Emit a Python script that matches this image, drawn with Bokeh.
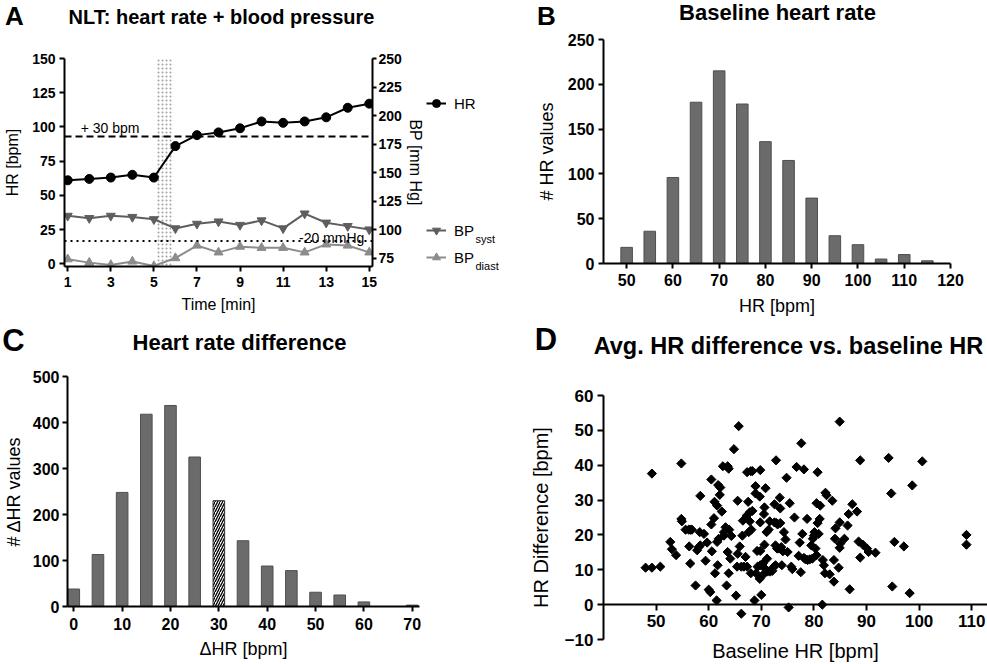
from bokeh.plotting import figure
from bokeh.models import Range1d, LinearAxis, Label, Legend, LegendItem, Span, FixedTicker
from bokeh.core.properties import value
from bokeh.layouts import column, row
from bokeh.embed import file_html
from bokeh.resources import INLINE

FONT = "Liberation Sans"

# ---------------- data ----------------
# Panel A: NLT time course
time_min = list(range(1, 16))
hr_bpm = [61, 62, 63, 65, 63, 86, 94, 96, 99, 104, 103, 104, 107, 114, 117]
bp_syst = [112, 110, 112, 111, 109, 101, 105, 107, 104, 108, 101, 114, 106, 103, 100]
bp_diast = [74, 71, 69, 72, 68, 75, 86, 80, 85, 84, 84, 80, 87, 86, 80]
hr_threshold = 93          # baseline + 30 bpm
bp_threshold = 90          # -20 mmHg
stim_start, stim_end = 5.15, 5.9
a_xticks = [1, 3, 5, 7, 9, 11, 13, 15]
a_hr_ticks = [0, 25, 50, 75, 100, 125, 150]
a_bp_ticks = [75, 100, 125, 150, 175, 200, 225, 250]

# Panel B: baseline heart rate histogram
hr_bins = [50, 55, 60, 65, 70, 75, 80, 85, 90, 95, 100, 105, 110, 115]
hr_counts = [18, 36, 96, 180, 215, 178, 136, 115, 73, 31, 21, 5, 10, 3]
b_xticks = [50, 60, 70, 80, 90, 100, 110, 120]
b_yticks = [0, 50, 100, 150, 200, 250]

# Panel C: heart rate difference histogram
dhr_bins = [0, 5, 10, 15, 20, 25, 30, 35, 40, 45, 50, 55, 60, 65, 70]
dhr_counts = [38, 113, 248, 418, 437, 325, 230, 143, 88, 78, 31, 25, 10, 0, 3]
dhr_highlight = 30
c_xticks = [0, 10, 20, 30, 40, 50, 60, 70]
c_yticks = [0, 100, 200, 300, 400, 500]

# Panel D: scatter avg HR difference vs baseline HR
baseline_hr = [
    48.0, 49.2, 49.2, 50.8, 52.7, 53.0, 53.8, 54.8, 54.8, 54.9,
    55.6, 56.2, 56.5, 56.8, 56.3, 56.5, 57.5, 57.8, 58.1, 58.4,
    58.4, 58.3, 59.1, 59.4, 59.7, 60.0, 60.3, 60.5, 60.5, 60.6,
    61.0, 61.1, 61.2, 61.5, 61.6, 61.6, 61.7, 61.9, 61.8, 62.2,
    62.1, 62.5, 62.9, 62.9, 62.7, 63.2, 63.4, 63.6, 63.8, 63.6,
    63.8, 63.9, 64.1, 64.3, 64.8, 65.2, 65.4, 65.5, 65.5, 65.7,
    65.9, 66.2, 66.4, 66.2, 66.7, 66.5, 67.0, 67.2, 67.3, 67.3,
    67.5, 67.6, 67.8, 67.8, 68.0, 68.1, 68.0, 68.3, 68.3, 68.7,
    68.9, 68.9, 69.0, 69.2, 69.3, 69.7, 69.8, 69.7, 69.8, 69.8,
    69.8, 70.0, 70.3, 70.3, 70.5, 70.6, 70.6, 70.8, 70.8, 71.0,
    71.1, 71.2, 71.4, 71.6, 71.7, 72.1, 72.4, 72.5, 72.5, 72.7,
    72.7, 72.8, 72.9, 73.0, 73.1, 73.3, 73.5, 73.6, 73.6, 73.8,
    73.9, 74.1, 74.3, 74.6, 74.8, 75.0, 75.2, 75.4, 75.7, 75.9,
    76.3, 76.7, 77.1, 77.3, 77.5, 77.6, 77.8, 78.1, 78.1, 78.4,
    78.7, 78.8, 79.2, 79.5, 79.7, 79.8, 80.0, 80.1, 80.3, 80.5,
    80.5, 80.7, 80.7, 80.9, 81.1, 81.2, 81.6, 81.7, 81.9, 82.1,
    82.2, 82.4, 83.0, 83.5, 83.8, 83.8, 84.0, 84.1, 84.7, 84.9,
    84.9, 84.9, 85.0, 85.8, 86.4, 86.6, 86.8, 87.3, 88.2, 88.5,
    88.8, 88.8, 89.3, 90.1, 90.4, 91.7, 94.2, 94.7, 94.9, 95.3,
    97.1, 98.2, 98.7, 100.6, 109.0, 109.0,
]
hr_difference = [
    10.6, 10.6, 37.6, 10.9, 18.0, 15.9, 14.2, 40.5, 24.6, 23.9,
    21.5, 21.5, 21.5, 21.5, 16.7, 11.8, 5.5, 15.6, 16.5, 17.0,
    31.2, 20.8, 20.3, 12.6, 17.8, 4.3, 3.6, 23.0, 35.9, 15.3,
    24.8, 29.5, 9.0, 1.2, 28.4, 18.0, 11.3, 18.9, 34.3, 33.6,
    31.5, 26.7, 19.8, 20.8, 39.7, 22.2, 5.5, 39.7, 39.0, 15.1,
    9.0, 21.5, 13.2, 19.7, 44.6, 2.6, 10.9, 29.8, 14.6, 51.2,
    16.7, -2.6, 19.8, 10.9, 10.9, 24.1, 13.7, 25.5, 10.9, 38.0,
    29.5, 20.8, 26.5, 23.9, 38.3, 21.5, 9.0, 38.3, 26.9, 1.2,
    34.0, 31.9, 9.0, 15.4, 10.9, 7.4, 38.6, 31.0, 23.6, 15.4,
    11.3, 2.8, 8.5, 11.8, 26.0, 27.9, 17.2, 10.2, 33.4, 20.8,
    13.2, 9.5, 21.5, 23.9, 9.5, 9.7, 10.9, 28.8, 23.6, 11.3,
    17.0, 41.4, 23.4, 16.1, 23.0, 16.1, 30.7, 27.6, 23.4, 16.5,
    11.3, 15.3, 20.8, 18.7, 36.4, 15.1, -0.8, 29.1, 10.9, 10.2,
    25.0, 39.5, 14.0, 17.8, 9.3, 46.3, 20.3, 38.8, 13.4, 13.0,
    24.6, 12.8, 13.0, 17.0, 13.2, 18.9, 19.8, 20.8, 16.1, 14.2,
    29.1, 38.0, 23.4, 20.3, 24.6, 28.4, 0.0, 12.8, 11.3, 9.0,
    32.1, 31.4, 8.7, 29.8, 6.6, 12.8, 18.9, 21.9, 10.6, 23.6,
    16.3, 52.5, 17.5, 18.9, 22.7, 26.0, 4.4, 28.8, 26.7, 18.1,
    13.5, 41.4, 17.2, 16.1, 15.1, 14.9, 42.1, 31.9, 5.2, 18.0,
    16.7, 3.3, 34.2, 41.1, 20.0, 17.2,
]
d_xticks = [50, 60, 70, 80, 90, 100, 110]
d_yticks = [-10, 0, 10, 20, 30, 40, 50, 60]

# panel letters and titles
letters = ["A", "B", "C", "D"]
titles = ["NLT: heart rate + blood pressure", "Baseline heart rate",
          "Heart rate difference", "Avg. HR difference vs. baseline HR"]

BAR_FILL = "#6b6b6b"
BAR_LINE = "#4f4f4f"
SYST_COLOR = "#5e5e5e"
DIAST_COLOR = "#8c8c8c"


# ---------------- helpers ----------------
def base_fig(geo, xr, yr):
    w, h, l, r, t, b = geo
    p = figure(width=w, height=h, x_range=xr, y_range=yr,
               min_border_left=l, min_border_right=r,
               min_border_top=t, min_border_bottom=b,
               output_backend="svg", toolbar_location=None, tools="")
    p.frame_align = False
    p.outline_line_color = None
    p.grid.visible = False
    p.background_fill_color = "white"
    p.border_fill_color = "white"
    return p


def blank_fig(w, h):
    p = figure(width=w, height=h, x_range=Range1d(0, w), y_range=Range1d(h, 0),
               min_border=0, x_axis_location=None, y_axis_location=None,
               output_backend="svg", toolbar_location=None, tools="")
    p.frame_align = False
    p.outline_line_color = None
    p.grid.visible = False
    p.background_fill_color = "white"
    p.border_fill_color = "white"
    return p


def header(w, h, specs):
    p = blank_fig(w, h)
    for (x, y, txt, size) in specs:
        p.text(x=[x], y=[y], text=[txt],
               text_font=value(FONT), text_font_size=f"{size}px", text_font_style="bold",
               text_align="center", text_baseline="middle", text_color="black")
    return p


def style_axis(ax, tick_px, label_px, tick_out=5, lab_standoff=4, axlab_standoff=8):
    ax.axis_line_color = "black"
    ax.axis_line_width = 2
    ax.major_tick_line_color = "black"
    ax.major_tick_line_width = 2
    ax.major_tick_in = 0
    ax.major_tick_out = tick_out
    ax.minor_tick_line_color = None
    ax.major_label_text_font = FONT
    ax.major_label_text_font_style = "bold"
    ax.major_label_text_font_size = f"{tick_px}px"
    ax.major_label_text_color = "black"
    ax.major_label_standoff = lab_standoff
    ax.axis_label_text_font = FONT
    ax.axis_label_text_font_style = "normal"
    ax.axis_label_text_font_size = f"{label_px}px"
    ax.axis_label_text_color = "black"
    ax.axis_label_standoff = axlab_standoff


# ---------------- headers ----------------
hdr1 = header(987, 30, [(14, 15, letters[0], 26),
                        (221, 16, titles[0], 20),
                        (546, 15, letters[1], 26),
                        (777, 12, titles[1], 22)])
hdr2 = header(987, 42, [(13, 20, letters[2], 31),
                        (239, 22, titles[2], 22),
                        (545.5, 19, letters[3], 31),
                        (788, 25.5, titles[3], 23.5)])

# ---------------- Panel A ----------------
geoA = (426, 290, 64, 50, 28, 54)
hr_lo, hr_hi = -2, 150
pA = base_fig(geoA, Range1d(0.85, 15.15), Range1d(hr_lo, hr_hi))
pA.extra_y_ranges = {"bp": Range1d(70 + 1.2 * hr_lo, 70 + 1.2 * hr_hi)}

pA.quad(left=[stim_start], right=[stim_end], bottom=[hr_lo], top=[hr_hi],
        fill_color=None, line_color=None, hatch_pattern="dot",
        hatch_color="#a0a0a0", hatch_scale=4, hatch_weight=1)

pA.add_layout(Span(location=hr_threshold, dimension="width", line_color="black",
                   line_width=2, line_dash="7 4"))
pA.add_layout(Span(location=bp_threshold, dimension="width", y_range_name="bp",
                   line_color="black", line_width=2, line_dash="2 4"))

pA.line(time_min, bp_syst, y_range_name="bp", line_color=SYST_COLOR, line_width=2)
pA.scatter(time_min, bp_syst, y_range_name="bp", marker="inverted_triangle",
           size=9, fill_color=SYST_COLOR, line_color=SYST_COLOR)
pA.line(time_min, bp_diast, y_range_name="bp", line_color=DIAST_COLOR, line_width=2)
pA.scatter(time_min, bp_diast, y_range_name="bp", marker="triangle",
           size=9, fill_color=DIAST_COLOR, line_color=DIAST_COLOR)
pA.line(time_min, hr_bpm, line_color="black", line_width=2)
pA.scatter(time_min, hr_bpm, marker="circle", size=9, fill_color="black", line_color="black")

pA.xaxis.ticker = FixedTicker(ticks=a_xticks)
pA.yaxis.ticker = FixedTicker(ticks=a_hr_ticks)
pA.xaxis.axis_label = "Time [min]"
pA.yaxis.axis_label = "HR [bpm]"
style_axis(pA.xaxis[0], 14, 16, 5, 5, 6)
style_axis(pA.yaxis[0], 14, 16, 5, 4, 8)
ax_bp = LinearAxis(y_range_name="bp", axis_label="BP [mm Hg]", ticker=FixedTicker(ticks=a_bp_ticks))
style_axis(ax_bp, 14, 16, 4, 2, 2)
pA.add_layout(ax_bp, "right")

pA.add_layout(Label(x=1.6, y=hr_threshold + 6, text="+ 30 bpm", text_font=FONT, text_font_size="14px",
                    text_baseline="middle", text_align="left", text_color="black"))
pA.add_layout(Label(x=14.77, y=bp_threshold + 3, y_range_name="bp", text="-20 mmHg",
                    text_font=FONT, text_font_size="14px",
                    text_baseline="middle", text_align="right", text_color="black"))

# Legend for panel A (own narrow figure right of the BP axis); the sample
# renderers hold one point outside the visible range so only the key shows.
legA = blank_fig(79, 290)
hidden = dict(x=[-100], y=[-100])
lg_hr_line = legA.line(line_color="black", line_width=2, **hidden)
lg_hr_pts = legA.scatter(marker="circle", size=9, fill_color="black", line_color="black", **hidden)
lg_sy_line = legA.line(line_color=SYST_COLOR, line_width=2, **hidden)
lg_sy_pts = legA.scatter(marker="inverted_triangle", size=9,
                         fill_color=SYST_COLOR, line_color=SYST_COLOR, **hidden)
lg_di_line = legA.line(line_color=DIAST_COLOR, line_width=2, **hidden)
lg_di_pts = legA.scatter(marker="triangle", size=9,
                         fill_color=DIAST_COLOR, line_color=DIAST_COLOR, **hidden)


def make_legend(items, loc, spacing=7):
    return Legend(items=items, location=loc, padding=0, margin=0, spacing=spacing,
                  border_line_color=None, background_fill_alpha=0,
                  label_text_font=FONT, label_text_font_size="15px",
                  label_text_color="black", glyph_width=20, glyph_height=20,
                  label_height=20, label_standoff=8)


legA.add_layout(make_legend([LegendItem(label="HR", renderers=[lg_hr_line, lg_hr_pts])], (0, 207)))
legA.add_layout(make_legend([LegendItem(label="BP", renderers=[lg_sy_line, lg_sy_pts]),
                             LegendItem(label="BP", renderers=[lg_di_line, lg_di_pts])], (0, 53)))
for sub, sy in (("syst", 82), ("diast", 55)):
    legA.add_layout(Label(x=49, y=sy, x_units="screen", y_units="screen", text=sub,
                          text_font=FONT, text_font_size="11px", text_align="left",
                          text_baseline="middle", text_color="black"))

# ---------------- Panel B ----------------
geoB = (482, 290, 98, 37, 9, 57)
pB = base_fig(geoB, Range1d(45, 120), Range1d(0, 250))
pB.vbar(x=hr_bins, top=hr_counts, width=2.5, fill_color=BAR_FILL, line_color=BAR_LINE, line_width=1)
pB.xaxis.ticker = FixedTicker(ticks=b_xticks)
pB.yaxis.ticker = FixedTicker(ticks=b_yticks)
pB.xaxis.axis_label = "HR [bpm]"
pB.yaxis.axis_label = "# HR values"
style_axis(pB.xaxis[0], 16, 18, 5, 5, 7)
style_axis(pB.yaxis[0], 16, 18, 5, 4, 8)

# ---------------- Panel C ----------------
geoC = (490, 302, 60, 71, 14, 58)
pC = base_fig(geoC, Range1d(-1.3, 71.5), Range1d(0, 500))
gray_x = [b for b in dhr_bins if b != dhr_highlight]
gray_y = [c for b, c in zip(dhr_bins, dhr_counts) if b != dhr_highlight]
hi_x = [b for b in dhr_bins if b == dhr_highlight]
hi_y = [c for b, c in zip(dhr_bins, dhr_counts) if b == dhr_highlight]
pC.vbar(x=gray_x, top=gray_y, width=2.4, fill_color=BAR_FILL, line_color=BAR_LINE, line_width=1)
pC.vbar(x=hi_x, top=hi_y, width=2.4, fill_color="white", line_color="#333333", line_width=1,
        hatch_pattern="/", hatch_color="black", hatch_scale=5, hatch_weight=1.3)
pC.xaxis.ticker = FixedTicker(ticks=c_xticks)
pC.yaxis.ticker = FixedTicker(ticks=c_yticks)
pC.xaxis.axis_label = "\u0394HR [bpm]"
pC.yaxis.axis_label = "# \u0394HR values"
style_axis(pC.xaxis[0], 16, 18, 5, 6, 6)
style_axis(pC.yaxis[0], 16, 18, 5, 3, 6)

# ---------------- Panel D ----------------
geoD = (497, 302, 113, 0, 33, 22)
pD = base_fig(geoD, Range1d(40, 113), Range1d(-10, 60))
pD.scatter(baseline_hr, hr_difference, marker="square", angle=0.785398, size=6.5,
           fill_color="black", line_color="black")
pD.xaxis.ticker = FixedTicker(ticks=d_xticks)
pD.yaxis.ticker = FixedTicker(ticks=d_yticks)
pD.xaxis.fixed_location = 0
pD.yaxis.axis_label = "HR Difference [bpm]"
style_axis(pD.xaxis[0], 17, 20, 6, 4, 5)
style_axis(pD.yaxis[0], 17, 20, 6, 4, 10)
ax_d_label = LinearAxis(ticker=FixedTicker(ticks=[]), axis_label="Baseline HR [bpm]")
style_axis(ax_d_label, 17, 20, 0, 0, 0)
ax_d_label.axis_line_color = None
ax_d_label.major_tick_line_color = None
pD.add_layout(ax_d_label, "below")

layout = column(hdr1, row(pA, legA, pB), hdr2, row(pC, pD))
open("out.html", "w").write(file_html(layout, INLINE))
